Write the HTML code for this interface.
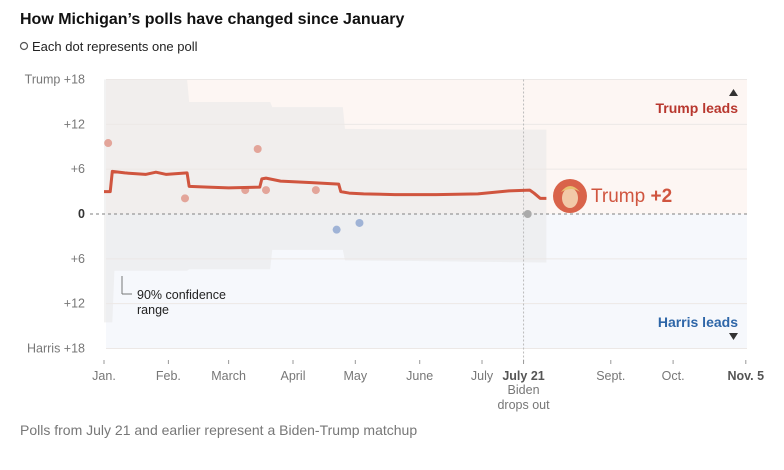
<!DOCTYPE html>
<html><head><meta charset="utf-8"><style>
body{margin:0;background:#fff;width:784px;height:465px;overflow:hidden;font-family:"Liberation Sans",sans-serif}
svg text{font-family:"Liberation Sans",sans-serif}
</style></head><body>
<svg id="c" width="784" height="465">
<text x="20" y="24" font-size="16" font-weight="bold" fill="#111">How Michigan’s polls have changed since January</text>
<circle cx="24" cy="46" r="3.5" fill="#fff" stroke="#555" stroke-width="1.2"/>
<text x="32" y="51" font-size="13" fill="#222">Each dot represents one poll</text>
<text x="20" y="435" font-size="14" fill="#777">Polls from July 21 and earlier represent a Biden-Trump matchup</text>
</svg>
<script>
const yTicks=[18,12,6,0,-6,-12,-18];
const yTickLabels=["Trump +18","+12","+6","0","+6","+12","Harris +18"];
const monthDays=[0,31,60,91,121,152,182,202,244,274,309];
const monthLabels=["Jan.","Feb.","March","April","May","June","July","July 21","Sept.","Oct.","Nov. 5"];
const avgDays=[0,3,4,10,20,25,30,40,41,50,60,75,76,78,85,100,113,114,118,125,140,160,180,195,205,207,210,213];
const avgVals=[3,3,5.7,5.5,5.3,5.6,5.3,5.5,3.7,3.6,3.5,3.6,4.7,4.8,4.4,4.2,4.0,3.0,2.8,2.7,2.6,2.6,2.7,3.1,3.2,2.8,2.1,2.1];
const bandDays=[0,4,5,40,41,80,81,115,116,150,213];
const bandHi=[18,18,18,18,15,15,14.3,14.3,11.4,11.3,11.3];
const bandLo=[-14.5,-14.5,-7.6,-7.6,-7.4,-7.4,-4.8,-4.8,-6.2,-6.3,-6.5];
const pollDays=[2,39,68,74,78,102,112,123,204];
const pollVals=[9.5,2.1,3.2,8.7,3.2,3.2,-2.1,-1.2,0];
const x=d=>104+d*2.077, y=v=>214-v*7.47;
const s=document.getElementById('c'),NS='http://www.w3.org/2000/svg';
function mk(t,a,p){const e=document.createElementNS(NS,t);for(const k in a)e.setAttribute(k,a[k]);(p||s).appendChild(e);return e;}
let e;
e=mk('rect',{x:106,y:y(18),width:641,height:y(0)-y(18),fill:'#fdf6f3'});


e=mk('rect',{x:106,y:y(0),width:641,height:y(-18)-y(0),fill:'#f6f8fc'});


let bp=bandDays.map((d,i)=>x(d)+','+y(bandHi[i])).join(' ')+' '+bandDays.map((d,i)=>x(d)+','+y(bandLo[i])).reverse().join(' ');
e=mk('polygon',{points:bp,fill:'#e8e8e8',opacity:0.55});


yTicks.forEach((t,i)=>{
 if(t!==0){e=mk('line',{x1:106,x2:747,y1:y(t),y2:y(t),stroke:'#ece8e6','stroke-width':1});
 
 }
 e=mk('text',{x:85,y:y(t)+4,'text-anchor':'end','font-size':12.5,fill:t===0?'#333':'#777','font-weight':t===0?'bold':'normal'});
 e.textContent=yTickLabels[i];
 
 
});
e=mk('line',{x1:90,x2:747,y1:y(0),y2:y(0),stroke:'#999','stroke-dasharray':'3,3','stroke-width':1.2});


e=mk('line',{x1:x(202),x2:x(202),y1:y(18),y2:362,stroke:'#bbb','stroke-dasharray':'2,2'});


monthDays.forEach((d,i)=>{
 e=mk('line',{x1:x(d),x2:x(d),y1:360,y2:364,stroke:'#999'});
 
 
 const b=i===7||i===10;
 e=mk('text',{x:x(d),y:380,'text-anchor':'middle','font-size':12.5,fill:b?'#555':'#777','font-weight':b?'bold':'normal'});
 e.textContent=monthLabels[i];
 
 
});
[['Biden',394],['drops out',409]].forEach(a=>{e=mk('text',{x:x(202),y:a[1],'text-anchor':'middle','font-size':12.5,fill:'#777'});e.textContent=a[0];

});
pollDays.forEach((d,i)=>{
 const v=pollVals[i];
 e=mk('circle',{cx:x(d),cy:y(v),r:4,fill:v>0?'#e3a59a':v<0?'#9fb3d6':'#aaa'});
 
 
});
let lp='';avgDays.forEach((d,i)=>{lp+=(i?'L':'M')+x(d)+','+y(avgVals[i]);});
e=mk('path',{d:lp,fill:'none',stroke:'#d0553f','stroke-width':3,'stroke-linejoin':'round'});


e=mk('line',{x1:122,x2:122,y1:276,y2:294,stroke:'#777'});


e=mk('line',{x1:122,x2:132,y1:294,y2:294,stroke:'#777'});


[['90% confidence',299],['range',314]].forEach(a=>{e=mk('text',{x:137,y:a[1],'font-size':12.5,fill:'#222'});e.textContent=a[0];

});
e=mk('circle',{cx:570,cy:196,r:17,fill:'#d9634a'});


e=mk('ellipse',{cx:570,cy:198,rx:8,ry:10,fill:'#f2c9a8'});


e=mk('path',{d:'M561,192 Q570,180 580,192 Q572,186 561,192',fill:'#e8c070'});


e=mk('text',{x:591,y:202,'font-size':19,fill:'#d0553f'});
e.innerHTML='Trump <tspan font-weight="bold">+2</tspan>';


e=mk('text',{x:738,y:113,'text-anchor':'end','font-size':14,'font-weight':'bold',fill:'#b8372e'});e.textContent='Trump leads';


e=mk('polygon',{points:'729,96 738,96 733.5,89',fill:'#333'});


e=mk('text',{x:738,y:327,'text-anchor':'end','font-size':14,'font-weight':'bold',fill:'#2e66a8'});e.textContent='Harris leads';


e=mk('polygon',{points:'729,333 738,333 733.5,340',fill:'#333'});


</script>
</body></html>
